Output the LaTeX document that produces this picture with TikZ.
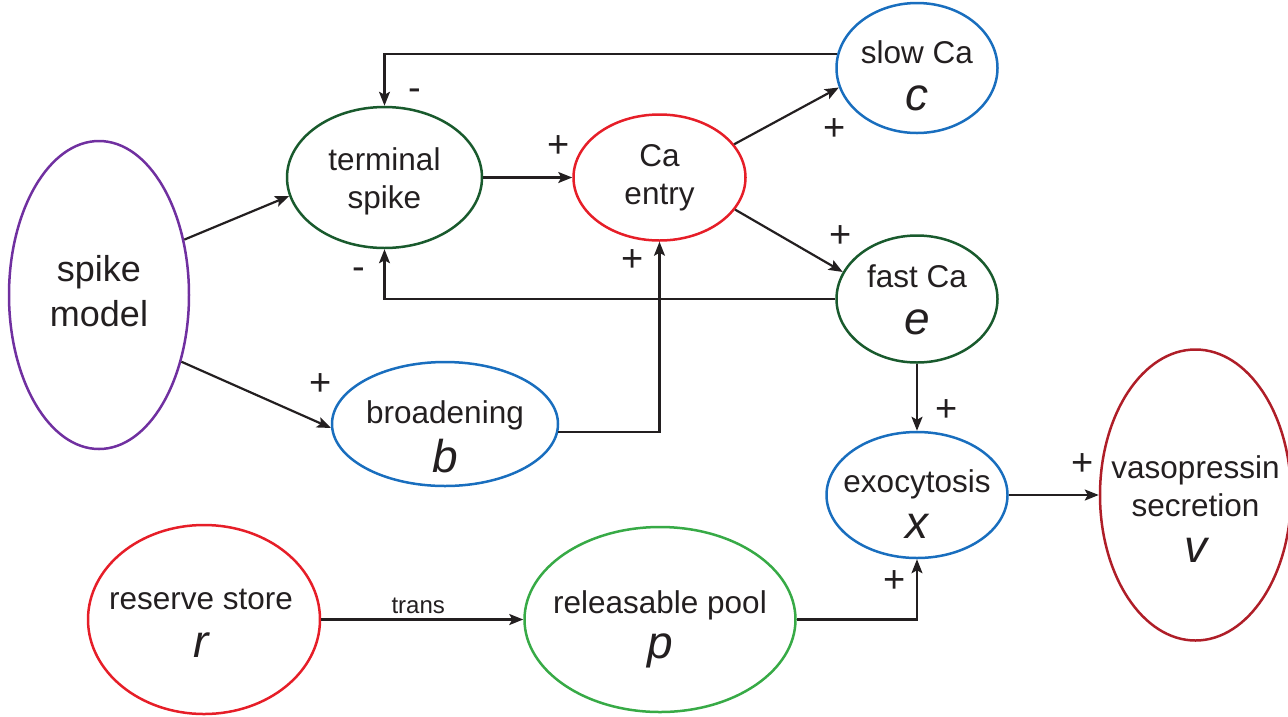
\documentclass[tikz,border=0pt]{standalone}
\usepackage{fontspec}
\setmainfont{Liberation Sans}
\usetikzlibrary{shapes.geometric,arrows.meta,positioning}
\definecolor{ink}{RGB}{35,31,32}
\definecolor{spkpurple}{RGB}{112,48,160}
\definecolor{dkgreen}{RGB}{25,90,45}
\definecolor{cared}{RGB}{230,30,40}
\definecolor{cblue}{RGB}{25,110,190}
\definecolor{poolgreen}{RGB}{55,170,70}
\definecolor{vasored}{RGB}{175,30,40}
\newcommand{\vn}[1]{{\fontsize{46}{46}\selectfont\itshape #1}}
\tikzstyle{compart} = [
    ellipse,
    line width=2.5pt,
    inner sep=0pt
]
\tikzstyle{txt} = [
    align=center,
    inner sep=0pt,
    text=ink,
    font=\fontsize{31.5}{38}\selectfont
]
\tikzstyle{sgn} = [
    inner sep=0pt,
    text=ink,
    font=\fontsize{38}{38}\selectfont
]
\tikzstyle{conn} = [
    line width=2.2pt,
    draw=ink,
    -{Stealth[length=14pt,width=11pt,inset=3pt]}
]

\begin{document}
\begin{tikzpicture}[x=1pt, y=-1pt]
    \useasboundingbox (0,0) rectangle (1288,716);
    % compartments
    \node[compart, draw=spkpurple, minimum width=180pt, minimum height=308pt] (sm) at (99,295) {};
    \node[compart, draw=dkgreen, minimum width=195pt, minimum height=141pt] (ts) at (384.5,177.5) {};
    \node[compart, draw=cared, minimum width=172pt, minimum height=126pt, right=89pt of ts] (ce) {};
    \node[compart, draw=cblue, minimum width=161pt, minimum height=130pt] (sc) at (917,68) {};
    \node[compart, draw=dkgreen, minimum width=161pt, minimum height=127pt, below=100pt of sc] (fc) {};
    \node[compart, draw=cblue, minimum width=226pt, minimum height=124pt] (br) at (445,424) {};
    \node[compart, draw=cblue, minimum width=181pt, minimum height=126pt, below=67pt of fc] (ex) {};
    \node[compart, draw=vasored, minimum width=191pt, minimum height=291pt, right=90pt of ex] (vs) {};
    \node[compart, draw=cared, minimum width=232pt, minimum height=189pt] (rs) at (204,619.5) {};
    \node[compart, draw=poolgreen, minimum width=271pt, minimum height=185pt, right=202pt of rs] (rp) {};

    % texts
    \node[txt, font=\fontsize{36}{45}\selectfont] (smt) at ([yshift=4pt]sm.center) {spike\\model};
    \node[txt] (tst) at ([yshift=-3.5pt]ts.center) {terminal\\spike};
    \node[txt] (cet) at (ce.center) {Ca\\entry};
    \node[txt] (sct) at ([yshift=-7.5pt]sc.center) {slow Ca\\[9pt]\vn{c}};
    \node[txt] (fct) at ([yshift=-1pt]fc.center) {fast Ca\\[9pt]\vn{e}};
    \node[txt] (brt) at ([yshift=-12.5pt]br.center) {broadening\\[8pt]\vn{b}};
    \node[txt] (ext) at ([yshift=-9pt]ex.center) {exocytosis\\[8pt]\vn{x}};
    \node[txt] (vst) at ([yshift=-14pt]vs.center) {vasopressin\\secretion\\[8pt]\vn{v}};
    \node[txt] (rst) at ([xshift=-3pt,yshift=-3.5pt]rs.center) {reserve store\\[10pt]\vn{r}};
    \node[txt] (rpt) at ([yshift=-9.5pt]rp.center) {releasable pool\\[7pt]\vn{p}};

    % connectors
    \draw[conn] (sm.33) -- (ts.191);
    \draw[conn] (sm.-39) -- (br.182)
        node[sgn, at end, shift={(-10,-43)}] {+};
    \draw[conn] (ts) -- (ce)
        node[sgn, at end, shift={(-14,-31)}] {+};
    \draw[conn] (ce.24) -- (sc.194)
        node[sgn, at end, shift={(-4,42)}] {+};
    \draw[conn] (ce.-23) -- (fc.160)
        node[sgn, at end, shift={(-2,-35)}] {+};
    \draw[conn] (sc.170) -| (ts.north)
        node[sgn, at end, shift={(30,-11)}] {-};
    \draw[conn] (fc.west) -| (ts.south)
        node[sgn, at end, shift={(-26,24)}] {-};
    \draw[conn] (br.-4) -| (ce.south)
        node[sgn, at end, shift={(-27,19)}] {+};
    \draw[conn] (fc) -- (ex)
        node[sgn, at end, shift={(30,-20)}] {+};
    \draw[conn] (ex) -- (vs)
        node[sgn, at end, shift={(-16,-30)}] {+};
    \draw[conn] (rs) -- (rp)
        node[pos=0.48, above=5pt, inner sep=0pt, text=ink, font=\fontsize{24}{24}\selectfont] {trans};
    \draw[conn] (rp.east) -| (ex.south)
        node[sgn, at end, shift={(-22,22)}] {+};
\end{tikzpicture}
\end{document}
